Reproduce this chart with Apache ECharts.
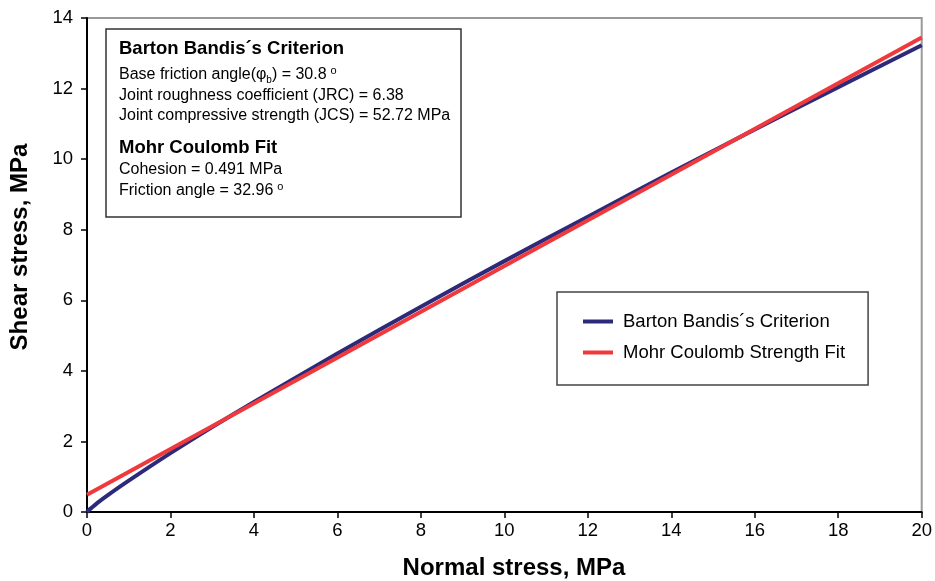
<!DOCTYPE html>
<html><head><meta charset="utf-8">
<script src="https://cdn.jsdelivr.net/npm/echarts@6/dist/echarts.min.js"></script>
<style>html,body{margin:0;padding:0;background:#fff}#c{width:935px;height:581px}</style>
</head><body><div id="c"></div>
<script>
const normalStress = [0, 0.05, 0.1, 0.25, 0.5, 1, 2, 3, 4, 6, 8, 10, 12, 14, 16, 18, 20];
const bartonBandis = [0, 0.06, 0.11, 0.26, 0.48, 0.89, 1.67, 2.41, 3.12, 4.49, 5.82, 7.11, 8.37, 9.62, 10.84, 12.04, 13.23];
const mcStress = [0, 5, 10, 15, 20];
const mohrCoulomb = [0.49, 3.73, 6.97, 10.21, 13.45];
const xTicks = [0, 2, 4, 6, 8, 10, 12, 14, 16, 18, 20];
const yTicks = [0, 2, 4, 6, 8, 10, 12, 14];
const seriesNames = ['Barton Bandis\u00b4s Criterion', 'Mohr Coulomb Strength Fit'];

const F = 'Liberation Sans, Arial, sans-serif';
const chart = echarts.init(document.getElementById('c'));
const zip = (xs, ys) => xs.map((x, i) => [x, ys[i]]);
const T = (x, y, text, size, bold, extra) => Object.assign({
  type: 'text', x: x, y: y, z: 11,
  style: { text: text, fontSize: size, fontWeight: bold ? 'bold' : 'normal', fontFamily: F, fill: '#000', verticalAlign: 'middle' }
}, extra || {});

chart.setOption({
  animation: false,
  backgroundColor: '#fff',
  grid: { left: 87, right: 12, top: 18, bottom: 69, show: true, borderColor: '#999', borderWidth: 2 },
  xAxis: {
    type: 'value', min: xTicks[0], max: xTicks[xTicks.length - 1], interval: 2,
    axisLine: { lineStyle: { color: '#000', width: 2 } },
    axisTick: { inside: false, length: 6, lineStyle: { color: '#000', width: 1.5 } },
    axisLabel: { color: '#000', fontSize: 18.5, fontFamily: F, margin: 9 },
    splitLine: { show: false }
  },
  yAxis: {
    type: 'value', min: yTicks[0], max: yTicks[yTicks.length - 1], interval: 2,
    axisLine: { show: true, lineStyle: { color: '#000', width: 2 } },
    axisTick: { show: true, inside: false, length: 6, lineStyle: { color: '#000', width: 1.5 } },
    axisLabel: { color: '#000', fontSize: 18.5, fontFamily: F, margin: 14 },
    splitLine: { show: false }
  },
  legend: {
    orient: 'vertical', left: 557, top: 292,
    padding: [20, 23, 23, 26],
    itemGap: 12, itemWidth: 30, itemHeight: 4,
    icon: 'rect',
    borderColor: '#444', borderWidth: 1.5, backgroundColor: '#fff',
    textStyle: { color: '#000', fontSize: 18.5, fontFamily: F, padding: [0, 0, 0, 5] },
    data: seriesNames
  },
  graphic: [
    { type: 'rect', shape: { x: 106, y: 29, width: 355, height: 188 }, style: { fill: '#fff', stroke: '#333', lineWidth: 1.5 }, z: 10 },
    T(119, 49, 'Barton Bandis\u00b4s Criterion', 18.5, true),
    { type: 'text', x: 119, y: 75, z: 11, style: {
      text: '{n|Base friction angle(}{p|\u03c6}{s|b}{n|) = 30.8}{sup|o}', verticalAlign: 'middle',
      rich: { n: { fontSize: 16, fontFamily: F, fill: '#000' }, p: { fontSize: 16, fontFamily: F, fill: '#000' }, s: { fontSize: 10, fontFamily: F, fill: '#000', verticalAlign: 'bottom', padding: [9, 0, 0, 0] }, sup: { fontSize: 11, fontFamily: F, fill: '#000', verticalAlign: 'top', padding: [0, 0, 9, 4] } } } },
    T(119, 96, 'Joint roughness coefficient (JRC) = 6.38', 16, false),
    T(119, 116, 'Joint compressive strength (JCS) = 52.72 MPa', 16, false),
    T(119, 148, 'Mohr Coulomb Fit', 18.5, true),
    T(119, 170, 'Cohesion = 0.491 MPa', 16, false),
    { type: 'text', x: 119, y: 191, z: 11, style: {
      text: '{n|Friction angle = 32.96}{sup|o}', verticalAlign: 'middle',
      rich: { n: { fontSize: 16, fontFamily: F, fill: '#000' }, sup: { fontSize: 11, fontFamily: F, fill: '#000', verticalAlign: 'top', padding: [0, 0, 9, 4] } } } },
    { type: 'text', x: 514, y: 568, z: 11, style: { text: 'Normal stress, MPa', fontSize: 24, fontWeight: 'bold', fontFamily: F, fill: '#000', align: 'center', verticalAlign: 'middle' } },
    { type: 'text', x: 20, y: 247, rotation: Math.PI / 2, z: 11, style: { text: 'Shear stress, MPa', fontSize: 24, fontWeight: 'bold', fontFamily: F, fill: '#000', align: 'center', verticalAlign: 'middle' } }
  ],
  series: [
    { name: seriesNames[0], type: 'line', data: zip(normalStress, bartonBandis), smooth: 0.3, showSymbol: false, symbol: 'none',
      lineStyle: { color: '#2d2a7a', width: 4 }, itemStyle: { color: '#2d2a7a' }, z: 3 },
    { name: seriesNames[1], type: 'line', data: zip(mcStress, mohrCoulomb), showSymbol: false, symbol: 'none',
      lineStyle: { color: '#f0393d', width: 4 }, itemStyle: { color: '#f0393d' }, z: 4 }
  ]
});
</script></body></html>
